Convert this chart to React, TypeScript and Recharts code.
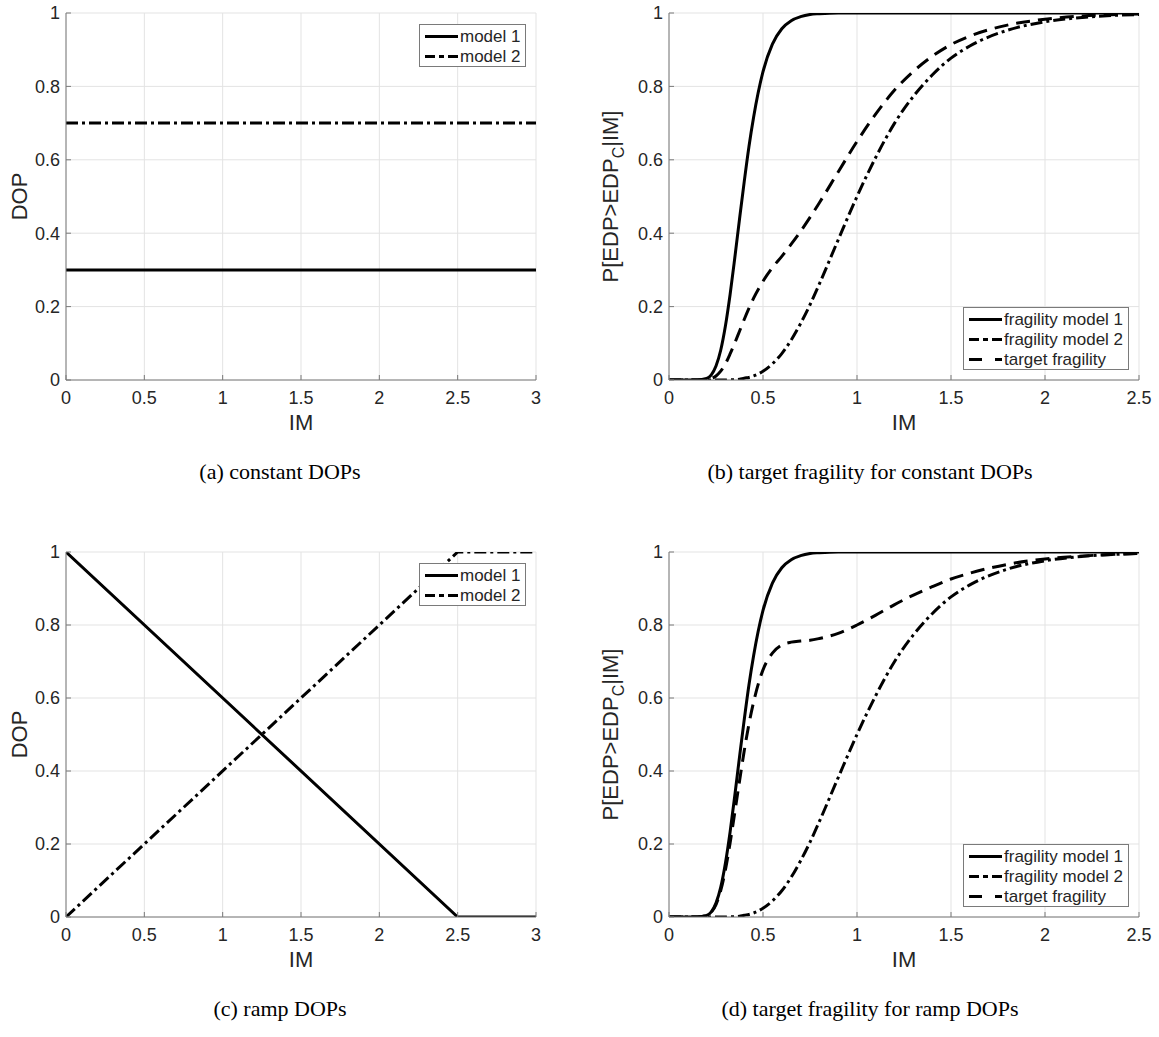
import React from 'react';
import { LineChart, Line, XAxis, YAxis, CartesianGrid, Legend } from 'recharts';

// (a) constant DOPs
const imConst = [0, 3];
const dopConst1 = [0.3, 0.3];
const dopConst2 = [0.7, 0.7];

// (c) ramp DOPs
const imRamp = [0, 2.5, 3];
const dopRamp1 = [1, 0, 0];
const dopRamp2 = [0, 1, 1];

// (b) / (d) fragility curves
const imFrag = [0, 0.1, 0.15, 0.2, 0.225, 0.25, 0.275, 0.3, 0.325, 0.35, 0.375, 0.4, 0.425, 0.45, 0.5, 0.55, 0.6, 0.65, 0.7, 0.75, 0.8, 0.9, 1.0, 1.1, 1.2, 1.3, 1.4, 1.5, 1.6, 1.8, 2.0, 2.2, 2.5];
const fragModel1 = [0, 0, 0, 0.004, 0.014, 0.038, 0.081, 0.147, 0.233, 0.333, 0.438, 0.54, 0.635, 0.716, 0.84, 0.915, 0.957, 0.979, 0.99, 0.996, 0.998, 1, 1, 1, 1, 1, 1, 1, 1, 1, 1, 1, 1];
const fragModel2 = [0, 0, 0, 0, 0, 0, 0, 0, 0.001, 0.001, 0.002, 0.005, 0.007, 0.011, 0.024, 0.044, 0.072, 0.109, 0.154, 0.205, 0.262, 0.382, 0.5, 0.607, 0.7, 0.773, 0.831, 0.877, 0.91, 0.953, 0.976, 0.988, 0.996];
const targetConst = [0, 0, 0, 0.001, 0.004, 0.011, 0.024, 0.044, 0.071, 0.101, 0.133, 0.165, 0.195, 0.223, 0.269, 0.306, 0.337, 0.37, 0.405, 0.443, 0.483, 0.567, 0.65, 0.725, 0.79, 0.841, 0.882, 0.914, 0.937, 0.967, 0.983, 0.992, 0.997];
const targetRamp = [0, 0, 0, 0.004, 0.013, 0.034, 0.072, 0.129, 0.203, 0.287, 0.372, 0.455, 0.528, 0.589, 0.677, 0.723, 0.745, 0.753, 0.756, 0.758, 0.763, 0.777, 0.8, 0.827, 0.856, 0.882, 0.905, 0.926, 0.942, 0.966, 0.981, 0.989, 0.996];

const yTicks = [0, 0.2, 0.4, 0.6, 0.8, 1];
const xTicksDop = [0, 0.5, 1, 1.5, 2, 2.5, 3];
const xTicksFrag = [0, 0.5, 1, 1.5, 2, 2.5];

const constRows = imConst.map((im, i) => ({ im, m1: dopConst1[i], m2: dopConst2[i] }));
const rampRows = imRamp.map((im, i) => ({ im, m1: dopRamp1[i], m2: dopRamp2[i] }));
const fragConstRows = imFrag.map((im, i) => ({ im, m1: fragModel1[i], m2: fragModel2[i], t: targetConst[i] }));
const fragRampRows = imFrag.map((im, i) => ({ im, m1: fragModel1[i], m2: fragModel2[i], t: targetRamp[i] }));

const SANS = '"Liberation Sans", Arial, Helvetica, sans-serif';
const SERIF = '"Liberation Serif", "Times New Roman", serif';
const AXIS = '#7a7a7a';
const GRID = '#e3e3e3';
const INK = '#262626';

const SOLID = undefined;
const DASHDOT = '12 4 3 4';
const DASHED = '14 8';

const dopSeries = [
  { key: 'm1', name: 'model 1', dash: SOLID, legendDash: SOLID },
  { key: 'm2', name: 'model 2', dash: DASHDOT, legendDash: '10 4 5 4' },
];
const fragSeries = [
  { key: 'm1', name: 'fragility model 1', dash: SOLID, legendDash: SOLID },
  { key: 'm2', name: 'fragility model 2', dash: DASHDOT, legendDash: '10 4 5 4' },
  { key: 't', name: 'target fragility', dash: DASHED, legendDash: '13 13' },
];

const X_AXIS_H = 60;

function LegendBox({ items, width }: any) {
  const h = items.length === 2 ? 43 : 63;
  return (
    <svg width={width} height={h} style={{ display: 'block' }}>
      <rect x={0.5} y={0.5} width={width - 1} height={h - 1} fill="#fff" stroke={AXIS} strokeWidth={1} />
      {items.map((s: any, i: number) => {
        const cy = 12.5 + 20 * i;
        return (
          <g key={s.key}>
            <line x1={6} x2={39} y1={cy} y2={cy} stroke="#000" strokeWidth={3} strokeDasharray={s.legendDash} />
            <text x={41} y={cy} dy="0.35em" fontSize={17} fontFamily={SANS} fill={INK}>
              {s.name}
            </text>
          </g>
        );
      })}
    </svg>
  );
}

function Panel({ x, y, w, h, plot, data, xMax, xTicks, series, curve, yLabel, legendW, legendPos }: any) {
  const margin = {
    top: plot.top - y,
    right: x + w - plot.right,
    bottom: h - (plot.bottom - y) - X_AXIS_H,
    left: 0,
  };
  const yAxisW = plot.left - x;
  const plotCy = (plot.top + plot.bottom) / 2 - y;
  const legendH = series.length === 2 ? 43 : 63;
  const legendLeft = plot.right - x - 10 - legendW;
  const legendTop = legendPos === 'top' ? plot.top - y + 11 : plot.bottom - y - 10 - legendH;

  return (
    <div style={{ position: 'absolute', left: x, top: y, width: w, height: h }}>
      <LineChart width={w} height={h} data={data} margin={margin}>
        <CartesianGrid stroke={GRID} strokeWidth={1} />
        <XAxis
          type="number"
          dataKey="im"
          domain={[0, xMax]}
          ticks={xTicks}
          interval={0}
          height={X_AXIS_H}
          allowDataOverflow
          stroke={AXIS}
          tickSize={-5}
          tickMargin={16}
          tick={{ fill: INK, fontSize: 18, fontFamily: SANS }}
          label={() => (
            <text x={plot.left - x + (plot.right - plot.left) / 2} y={plot.bottom - y + 50} textAnchor="middle" fontSize={22} fontFamily={SANS} fill={INK}>
              IM
            </text>
          )}
        />
        <XAxis
          xAxisId="top"
          orientation="top"
          type="number"
          domain={[0, xMax]}
          ticks={xTicks}
          interval={0}
          height={0}
          allowDataOverflow
          stroke={AXIS}
          tickSize={-5}
          tick={false}
        />
        <YAxis
          type="number"
          domain={[0, 1]}
          ticks={yTicks}
          interval={0}
          width={yAxisW}
          allowDataOverflow
          stroke={AXIS}
          tickSize={-5}
          tickMargin={11}
          tick={{ fill: INK, fontSize: 18, fontFamily: SANS }}
          label={() => yLabel(plotCy)}
        />
        <YAxis
          yAxisId="right"
          orientation="right"
          type="number"
          domain={[0, 1]}
          ticks={yTicks}
          interval={0}
          width={0}
          allowDataOverflow
          stroke={AXIS}
          tickSize={-5}
          tick={false}
        />
        {series.map((s: any) => (
          <Line
            key={s.key}
            type={curve}
            dataKey={s.key}
            name={s.name}
            stroke="#000"
            strokeWidth={3}
            strokeDasharray={s.dash}
            dot={false}
            activeDot={false}
            isAnimationActive={false}
          />
        ))}
        <Legend
          layout="vertical"
          align="center"
          verticalAlign="middle"
          wrapperStyle={{ left: legendLeft, top: legendTop, width: legendW, height: legendH }}
          content={() => <LegendBox items={series} width={legendW} />}
        />
      </LineChart>
    </div>
  );
}

const dopLabel = (cy: number) => (
  <text transform={`translate(27, ${cy}) rotate(-90)`} textAnchor="middle" fontSize={22} fontFamily={SANS} fill={INK}>
    DOP
  </text>
);

const fragLabel = (cy: number) => (
  <text transform={`translate(38, ${cy}) rotate(-90)`} textAnchor="middle" fontSize={22} fontFamily={SANS} fill={INK}>
    P[EDP&gt;EDP
    <tspan dy={6} fontSize={16}>C</tspan>
    <tspan dy={-6}>|IM]</tspan>
  </text>
);

function Caption({ cx, cy, children }: any) {
  return (
    <div
      style={{
        position: 'absolute',
        left: cx - 250,
        top: cy - 13,
        width: 500,
        lineHeight: '26px',
        textAlign: 'center',
        fontFamily: SERIF,
        fontSize: 22,
        color: '#000',
      }}
    >
      {children}
    </div>
  );
}

export default function App() {
  return (
    <div style={{ position: 'absolute', left: 0, top: 0, width: 1159, height: 1037, background: '#fff', overflow: 'hidden' }}>
      <Panel
        x={0} y={0} w={560} h={460}
        plot={{ left: 66, top: 13, right: 536, bottom: 380 }}
        data={constRows} xMax={3} xTicks={xTicksDop} series={dopSeries} curve="linear"
        yLabel={dopLabel} legendW={107} legendPos="top"
      />
      <Panel
        x={580} y={0} w={579} h={460}
        plot={{ left: 669, top: 13, right: 1139, bottom: 380 }}
        data={fragConstRows} xMax={2.5} xTicks={xTicksFrag} series={fragSeries} curve="monotone"
        yLabel={fragLabel} legendW={166} legendPos="bottom"
      />
      <Panel
        x={0} y={500} w={560} h={520}
        plot={{ left: 66, top: 552, right: 536, bottom: 917 }}
        data={rampRows} xMax={3} xTicks={xTicksDop} series={dopSeries} curve="linear"
        yLabel={dopLabel} legendW={107} legendPos="top"
      />
      <Panel
        x={580} y={500} w={579} h={520}
        plot={{ left: 669, top: 552, right: 1139, bottom: 917 }}
        data={fragRampRows} xMax={2.5} xTicks={xTicksFrag} series={fragSeries} curve="monotone"
        yLabel={fragLabel} legendW={166} legendPos="bottom"
      />
      <Caption cx={280} cy={472}>(a) constant DOPs</Caption>
      <Caption cx={870} cy={472}>(b) target fragility for constant DOPs</Caption>
      <Caption cx={280} cy={1009}>(c) ramp DOPs</Caption>
      <Caption cx={870} cy={1009}>(d) target fragility for ramp DOPs</Caption>
    </div>
  );
}
